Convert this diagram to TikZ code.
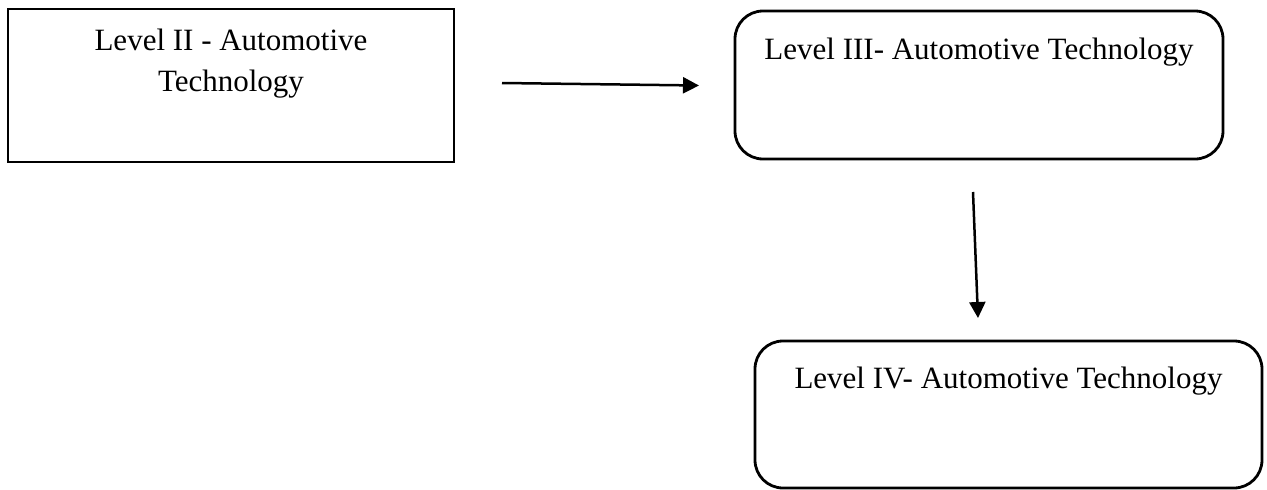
\documentclass[tikz,border=0pt]{standalone}
\usepackage{fontspec}
\setmainfont{Liberation Serif}
\usetikzlibrary{arrows.meta,positioning}
\tikzstyle{sqbox} = [rectangle, draw=black, line width=2.8pt, inner sep=0pt]
\tikzstyle{rndbox} = [rectangle, rounded corners=28pt, draw=black, line width=2.8pt, inner sep=0pt]
\tikzstyle{lbl} = [font=\fontsize{31}{41}\selectfont, align=center, inner sep=0pt, anchor=base]
\tikzstyle{arrow} = [line width=2.5pt, -{Triangle[length=16pt,width=16pt]}]
\begin{document}
\begin{tikzpicture}[x=1pt,y=-1pt]
\useasboundingbox (0,0) rectangle (1267,490);
\draw (231,85.5) node (l2) [sqbox, minimum width=446pt, minimum height=153pt] {};
\draw (979,85) node (l3) [rndbox, minimum width=488pt, minimum height=148pt] {};
\draw (1008.5,414.5) node (l4) [rndbox, minimum width=507pt, minimum height=147pt] {};
\draw (231,91) node (t2) [lbl] {Level II - Automotive\\Technology};
\draw (979,59) node (t3) [lbl] {Level III- Automotive Technology};
\draw (1008.5,388) node (t4) [lbl] {Level IV- Automotive Technology};
%free ends of the arrows
\coordinate (a1s) at (502,83);
\coordinate (a1e) at (699,85.5);
\coordinate (a2s) at (973,192);
\coordinate (a2e) at (978,318);
\draw[arrow] (a1s)--(a1e);
\draw[arrow] (a2s)--(a2e);
\end{tikzpicture}
\end{document}
